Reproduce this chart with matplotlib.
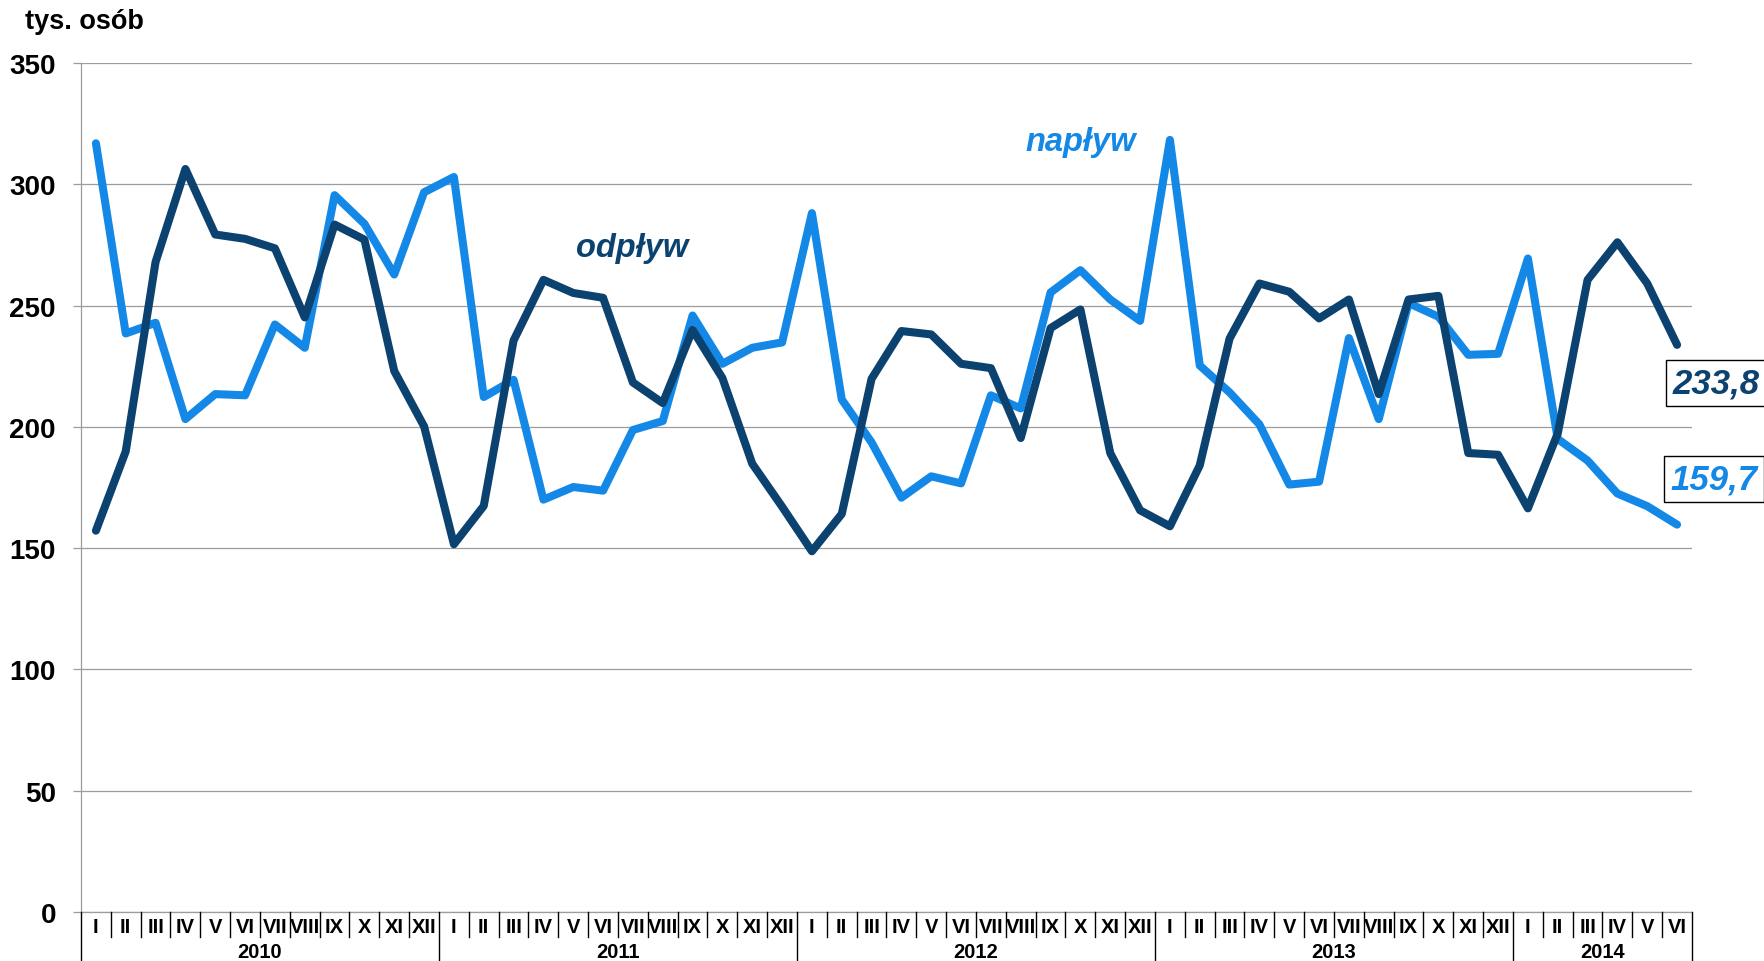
import numpy as np
import matplotlib
matplotlib.use("Agg")
import matplotlib.pyplot as plt
import matplotlib.transforms as mtransforms

# ---------------------------------------------------------------------------
# data (thousand persons, monthly 2010-I .. 2014-VI)
# ---------------------------------------------------------------------------
months = ["I", "II", "III", "IV", "V", "VI", "VII", "VIII", "IX", "X", "XI", "XII"]
years = ["2010", "2011", "2012", "2013", "2014"]
months_per_year = [12, 12, 12, 12, 6]

naplyw = [
    316.9, 238.5, 242.9, 203.2, 213.5, 213.0, 242.2, 232.6, 295.5, 283.7, 262.8, 296.7,
    303.0, 212.3, 219.4, 170.0, 175.2, 173.7, 198.7, 202.4, 245.9, 226.0, 232.6, 234.8,
    288.1, 211.3, 193.6, 170.8, 179.6, 176.7, 213.0, 207.6, 255.4, 264.6, 252.5, 243.7,
    318.3, 225.3, 214.2, 201.0, 176.2, 177.4, 236.6, 203.2, 251.0, 245.4, 229.7, 230.1,
    269.4, 195.0, 186.1, 172.5, 167.3, 159.7,
]
odplyw = [
    157.2, 189.9, 268.0, 306.3, 279.3, 277.5, 273.6, 245.1, 283.4, 277.2, 223.0, 200.2,
    151.6, 167.4, 235.6, 260.6, 255.2, 253.2, 218.3, 209.8, 240.0, 220.1, 184.8, 167.1,
    148.7, 164.1, 219.8, 239.5, 238.1, 226.0, 224.2, 195.4, 240.7, 248.4, 189.2, 165.6,
    159.0, 184.1, 236.4, 259.1, 255.7, 244.7, 252.5, 213.5, 252.5, 254.0, 189.2, 188.5,
    166.4, 197.3, 260.6, 276.1, 259.1, 233.8,
]

yticks = [0, 50, 100, 150, 200, 250, 300, 350]

# ---------------------------------------------------------------------------
# style
# ---------------------------------------------------------------------------
LIGHT = "#1488E6"
DARK = "#0B4270"
GRID = "#9C9C9C"
FONT = ["Liberation Sans", "DejaVu Sans"]
NARROW = ["Liberation Sans Narrow", "Liberation Sans", "DejaVu Sans"]

plt.rcParams["font.family"] = FONT

fig = plt.figure(figsize=(17.65, 9.62), dpi=100)
ax = fig.add_axes([0.04589, 0.05094, 0.91275, 0.88254])

x = np.arange(len(naplyw))
ax.plot(x, naplyw, color=LIGHT, lw=5.8, solid_capstyle="round",
        solid_joinstyle="round", zorder=3)
ax.plot(x, odplyw, color=DARK, lw=5.8, solid_capstyle="round",
        solid_joinstyle="round", zorder=4)

ax.set_xlim(-0.5, len(x) - 0.5)
ax.set_ylim(0, 350)
ax.set_yticks(yticks)
ax.set_yticklabels([str(v) for v in yticks], fontsize=20, fontweight="bold")
ax.tick_params(axis="y", length=6, width=0.9, color=GRID, pad=12)
ax.set_xticks([])

ax.grid(axis="y", color=GRID, lw=0.9)
ax.set_axisbelow(True)
for s in ["top", "right"]:
    ax.spines[s].set_visible(False)
for s in ["left", "bottom"]:
    ax.spines[s].set_color(GRID)
    ax.spines[s].set_linewidth(0.9)

# ---------------------------------------------------------------------------
# two-level category axis
# ---------------------------------------------------------------------------
trans = mtransforms.blended_transform_factory(ax.transData, ax.transAxes)
month_row = -0.0295
bottom_row = -0.058

labels = []
for n in months_per_year:
    labels += months[:n]
for i, lab in enumerate(labels):
    ax.text(i, -0.0168, lab, transform=trans, ha="center", va="center",
            fontsize=14.5, fontweight="bold", family=NARROW)

year_edges = np.cumsum([0] + months_per_year) - 0.5
for k in range(len(x) + 1):
    xb = k - 0.5
    yb = bottom_row if xb in year_edges else month_row
    ax.plot([xb, xb], [0, yb], transform=trans, color="black", lw=1.0,
            clip_on=False, zorder=5)

for j, yr in enumerate(years):
    xc = (year_edges[j] + year_edges[j + 1]) / 2
    ax.text(xc, -0.0468, yr, transform=trans, ha="center", va="center",
            fontsize=14.5, fontweight="bold", family=NARROW)

# ---------------------------------------------------------------------------
# annotations
# ---------------------------------------------------------------------------
fig.text(25 / 1765, 1 - 22 / 962, "tys. osób", ha="left", va="center",
         fontsize=19.5, fontweight="bold")

ax.text(632 / 1765, 1 - 248 / 962, "odpływ", transform=fig.transFigure,
        ha="center", va="center", fontsize=23.5, fontweight="bold",
        style="italic", color=DARK)
ax.text(1081 / 1765, 1 - 143 / 962, "napływ", transform=fig.transFigure,
        ha="center", va="center", fontsize=23.5, fontweight="bold",
        style="italic", color=LIGHT)

box = dict(boxstyle="square,pad=0.18", fc="white", ec="black", lw=1.0)
fig.text(1716 / 1765, 1 - 384 / 962, "{:.1f}".format(odplyw[-1]).replace(".", ","),
         ha="center", va="center", fontsize=25, fontweight="bold",
         style="italic", color=DARK, bbox=box)
fig.text(1714 / 1765, 1 - 480 / 962, "{:.1f}".format(naplyw[-1]).replace(".", ","),
         ha="center", va="center", fontsize=25, fontweight="bold",
         style="italic", color=LIGHT, bbox=box)

fig.savefig("out.png", dpi=100)
